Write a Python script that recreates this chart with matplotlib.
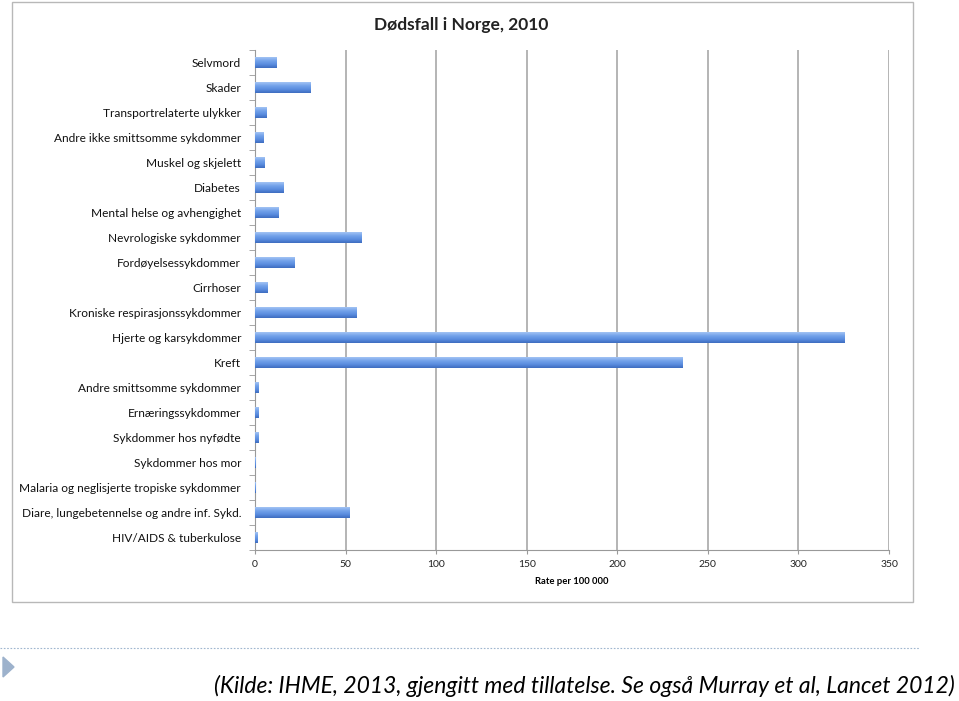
import matplotlib
matplotlib.use("Agg")
import matplotlib.pyplot as plt
import numpy as np
from matplotlib.patches import Rectangle, Polygon
from matplotlib.colors import LinearSegmentedColormap

categories = [
    "Selvmord",
    "Skader",
    "Transportrelaterte ulykker",
    "Andre ikke smittsomme sykdommer",
    "Muskel og skjelett",
    "Diabetes",
    "Mental helse og avhengighet",
    "Nevrologiske sykdommer",
    "Fordøyelsessykdommer",
    "Cirrhoser",
    "Kroniske respirasjonssykdommer",
    "Hjerte og karsykdommer",
    "Kreft",
    "Andre smittsomme sykdommer",
    "Ernæringssykdommer",
    "Sykdommer hos nyfødte",
    "Sykdommer hos mor",
    "Malaria og neglisjerte tropiske sykdommer",
    "Diare, lungebetennelse og andre inf. Sykd.",
    "HIV/AIDS & tuberkulose",
]
values = [11.6, 30.4, 6.4, 4.8, 5.3, 16.0, 12.7, 59.0, 21.7, 7.0,
          55.8, 325.4, 235.8, 1.8, 1.8, 2.2, 0.4, 0.4, 52.3, 1.3]
xticks = [0, 50, 100, 150, 200, 250, 300, 350]
title = "Dødsfall i Norge, 2010"
xlabel = "Rate per 100 000"
source = "(Kilde: IHME, 2013, gjengitt med tillatelse. Se også Murray et al, Lancet 2012)"

W, H = 959, 701
fig = plt.figure(figsize=(W / 100, H / 100), dpi=100)

# chart frame
fig.patches.append(Rectangle((12 / W, 1 - 602 / H), (913 - 12) / W, (602 - 2) / H,
                             transform=fig.transFigure, fill=False,
                             edgecolor="#b8b8b8", linewidth=1.0))

ax = fig.add_axes([255 / W, 1 - 550 / H, (889 - 255) / W, (550 - 50) / H])
y = np.arange(len(categories))
bars = ax.barh(y, values, height=0.42, color="#6a9ae6", edgecolor="none", zorder=3)

cmap = LinearSegmentedColormap.from_list("g", ["#a3c4f4", "#73a2ea", "#5a8ddf", "#3d6cc0"])
grad = np.linspace(0, 1, 64).reshape(-1, 1)
for p in bars:
    x0, y0 = p.get_x(), p.get_y()
    w, h = p.get_width(), p.get_height()
    im = ax.imshow(grad, extent=[x0, x0 + w, y0 + h, y0], aspect="auto",
                   cmap=cmap, zorder=4, interpolation="bilinear")
    im.set_clip_path(p)

ax.set_ylim(len(categories) - 0.5, -0.5)
ax.set_xlim(0, 350)
ax.set_xticks(xticks)
ax.set_xticklabels([str(t) for t in xticks], fontsize=7.5, color="#222222", family="Lato")
ax.set_yticks(y)
ax.set_yticklabels(categories, fontsize=8.6, color="#111111", family="Lato")
ax.tick_params(axis="y", length=0, pad=10)
ax.set_yticks(np.arange(len(categories) + 1) - 0.5, minor=True)
ax.tick_params(axis="y", which="minor", length=4, color="#999999")
ax.tick_params(axis="x", length=3, color="#999999", pad=4)
ax.xaxis.grid(True, color="#a8a8a8", linewidth=1.2, zorder=0)
ax.set_axisbelow(True)
for s in ["top", "right"]:
    ax.spines[s].set_visible(False)
ax.spines["left"].set_color("#999999")
ax.spines["bottom"].set_color("#999999")
ax.set_xlabel(xlabel, fontsize=6.8, fontweight="bold", labelpad=6, family="Lato")

fig.text(461 / W, 1 - 25 / H, title, ha="center", va="center",
         fontsize=12.5, fontweight="bold", color="#222222", family="Lato")

# footer
fig.add_artist(plt.Line2D([0, 920 / W], [1 - 648 / H] * 2, transform=fig.transFigure,
                          color="#9fb6cf", linewidth=0.8, linestyle=(0, (1.5, 1.5))))
fig.patches.append(Polygon([[3 / W, 1 - 657 / H], [3 / W, 1 - 677 / H], [14 / W, 1 - 667 / H]],
                           closed=True, transform=fig.transFigure, color="#9db2cc"))
fig.text(955 / W, 1 - 686 / H, source, ha="right", va="center",
         fontsize=16.5, style="italic", family="Lato", color="#000000")

fig.savefig("out.png", dpi=100)
